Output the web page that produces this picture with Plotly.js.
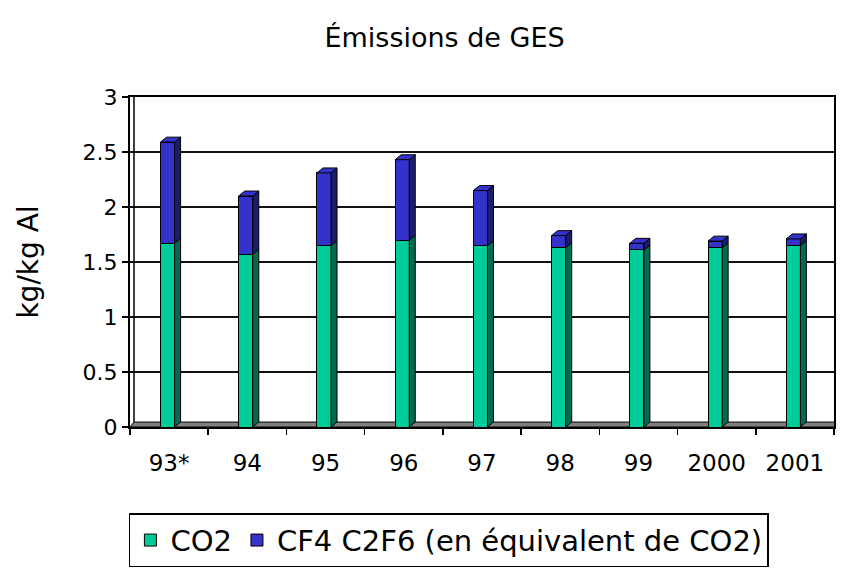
<!DOCTYPE html>
<html>
<head>
<meta charset="utf-8">
<script src="https://cdn.plot.ly/plotly-3.0.1.min.js"></script>
<style>html,body{margin:0;padding:0;background:#fff;}#chart{width:842px;height:575px;}</style>
</head>
<body>
<div id="chart"></div>
<script>
// ---- data ----
const categories = ['93*', '94', '95', '96', '97', '98', '99', '2000', '2001'];
const co2Values = [1.67, 1.57, 1.65, 1.70, 1.65, 1.63, 1.61, 1.63, 1.65];
const pfcValues = [0.92, 0.53, 0.66, 0.73, 0.50, 0.11, 0.06, 0.06, 0.06];
const seriesNames = ['CO2', 'CF4 C2F6 (en équivalent de CO2)'];
const yTickVals = [0, 0.5, 1, 1.5, 2, 2.5, 3];
const yTickText = ['0', '0.5', '1', '1.5', '2', '2.5', '3'];

// ---- layout constants ----
const W = 842, H = 575;
const M = {l: 130, r: 8, t: 97, b: 145};
const yMax = 3;
const plotW = W - M.l - M.r, plotH = H - M.t - M.b;
const pxPerCat = plotW / categories.length;
const pxPerUnit = plotH / yMax;
const barW = 0.18, barOff = -0.11;
const dx = 6 / pxPerCat, dy = 5 / pxPerUnit;       // bar depth
const fdx = 4 / pxPerCat, fdy = 5 / pxPerUnit;     // floor depth

const colFront = ['#00CC99', '#3333CC'];
const colSide = ['#006B50', '#1C1C6E'];
const colTop = ['#00CC99', '#3333CC'];
const FONT = 'DejaVu Sans, Verdana, sans-serif';

const traces = [co2Values, pfcValues].map((vals, s) => ({
  type: 'bar',
  x: categories,
  y: vals,
  name: seriesNames[s],
  width: barW,
  offset: barOff,
  marker: {color: colFront[s], line: {color: '#000', width: 1}},
  hoverinfo: 'x+y+name'
}));

const shapes = [];
// floor
shapes.push({
  type: 'path', xref: 'x', yref: 'y', layer: 'between',
  path: `M -0.5,0 L ${categories.length - 0.5},0 L ${categories.length - 0.5 + fdx},${fdy} L ${-0.5 + fdx},${fdy} Z`,
  fillcolor: '#808080', line: {color: '#000', width: 1}
});
// back-wall left edge
shapes.push({
  type: 'line', xref: 'x', yref: 'y', layer: 'between',
  x0: -0.5 + fdx, x1: -0.5 + fdx, y0: fdy, y1: yMax,
  line: {color: '#000', width: 1.5}
});
// 3D side/top faces derived from the data
categories.forEach((c, i) => {
  const xl = i + barOff, xr = i + barOff + barW;
  let base = 0;
  [co2Values, pfcValues].forEach((vals, s) => {
    const top = base + vals[i];
    shapes.push({
      type: 'path', xref: 'x', yref: 'y', layer: 'above',
      path: `M ${xr},${base} L ${xr},${top} L ${xr + dx},${top + dy} L ${xr + dx},${base + dy} Z`,
      fillcolor: colSide[s], line: {color: '#000', width: 1}
    });
    base = top;
  });
  shapes.push({
    type: 'path', xref: 'x', yref: 'y', layer: 'above',
    path: `M ${xl},${base} L ${xr},${base} L ${xr + dx},${base + dy} L ${xl + dx},${base + dy} Z`,
    fillcolor: colTop[1], line: {color: '#000', width: 1}
  });
});

const layout = {
  width: W, height: H,
  margin: M,
  paper_bgcolor: '#fff', plot_bgcolor: '#fff',
  barmode: 'stack',
  font: {family: FONT, color: '#000'},
  title: {
    text: 'Émissions de GES',
    font: {family: FONT, size: 27, color: '#000'},
    x: 0.528, xanchor: 'center', xref: 'container',
    y: 1 - 38 / H, yanchor: 'middle', yref: 'container'
  },
  xaxis: {
    type: 'category',
    range: [-0.5, categories.length - 0.5],
    tickson: 'boundaries',
    ticks: 'outside', ticklen: 6, tickcolor: '#000', tickwidth: 1.5,
    ticklabelstandoff: 14,
    tickfont: {family: FONT, size: 23, color: '#000'},
    showline: true, linecolor: '#000', linewidth: 2, mirror: true,
    showgrid: false, zeroline: false, fixedrange: true
  },
  yaxis: {
    range: [0, yMax],
    tickvals: yTickVals, ticktext: yTickText,
    ticks: 'outside', ticklen: 6, tickcolor: '#000', tickwidth: 1.5,
    tickfont: {family: FONT, size: 22, color: '#000'},
    showline: true, linecolor: '#000', linewidth: 2, mirror: true,
    showgrid: true, gridcolor: '#111', gridwidth: 1.2,
    zeroline: false, fixedrange: true,
    title: {text: 'kg/kg Al', font: {family: FONT, size: 28, color: '#000'}, standoff: 36}
  },
  legend: {
    orientation: 'h', traceorder: 'normal',
    x: 0.453, xanchor: 'center', y: -(517 - (H - M.b)) / plotH, yanchor: 'top',
    bordercolor: '#000', borderwidth: 1.5, bgcolor: '#fff',
    font: {family: FONT, size: 29, color: '#000'},
    itemclick: false
  },
  shapes: shapes,
  showlegend: true,
  bargap: 0.8
};

Plotly.newPlot('chart', traces, layout, {displayModeBar: false, staticPlot: true});
</script>
</body>
</html>
